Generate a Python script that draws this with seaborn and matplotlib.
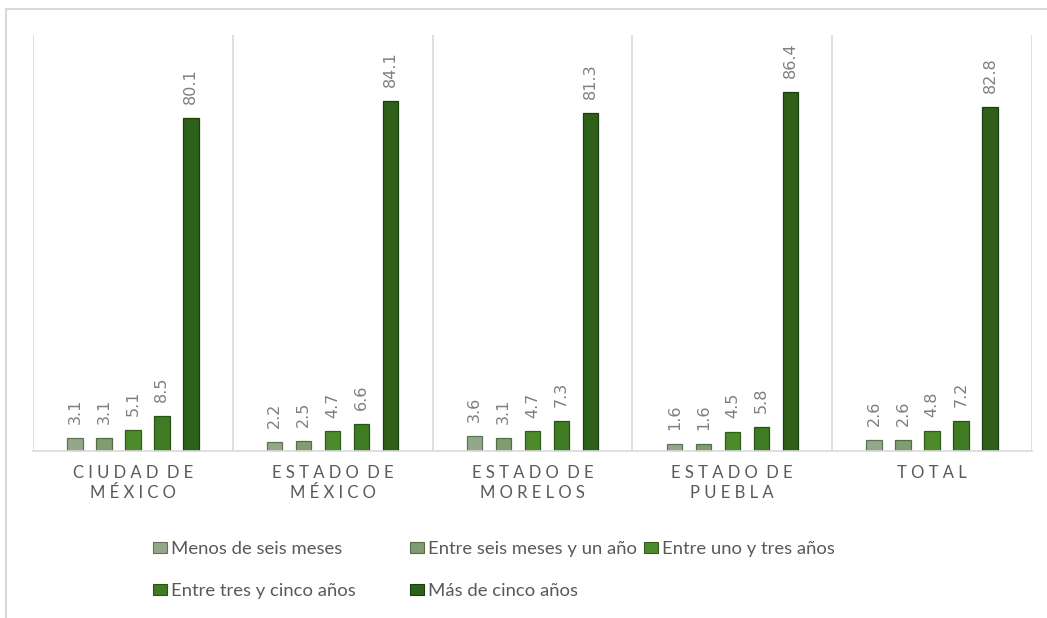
import matplotlib
matplotlib.use("Agg")
import matplotlib.pyplot as plt
from matplotlib.lines import Line2D
from matplotlib.patches import Patch
import seaborn as sns
import pandas as pd

# Entidades y periodos
estados = ["CIUDAD DE\nMÉXICO", "ESTADO DE\nMÉXICO", "ESTADO DE\nMORELOS", "ESTADO DE\nPUEBLA", "TOTAL"]
periodos = ["Menos de seis meses", "Entre seis meses y un año", "Entre uno y tres años",
            "Entre tres y cinco años", "Más de cinco años"]

# Porcentajes por periodo (una lista por periodo, en el orden de las entidades)
menos_seis_meses = [3.1, 2.2, 3.6, 1.6, 2.6]
seis_meses_un_ano = [3.1, 2.5, 3.1, 1.6, 2.6]
uno_tres_anos = [5.1, 4.7, 4.7, 4.5, 4.8]
tres_cinco_anos = [8.5, 6.6, 7.3, 5.8, 7.2]
mas_cinco_anos = [80.1, 84.1, 81.3, 86.4, 82.8]

colores = ["#93a78a", "#7f9c72", "#4d8a2c", "#3f7b22", "#2e6019"]
bordes = ["#5f7356", "#536e47", "#2f5f18", "#285315", "#1b3d0e"]

series = [menos_seis_meses, seis_meses_un_ano, uno_tres_anos, tres_cinco_anos, mas_cinco_anos]
filas = []
for periodo, valores in zip(periodos, series):
    for estado, v in zip(estados, valores):
        filas.append({"estado": estado, "periodo": periodo, "valor": v})
df = pd.DataFrame(filas)

sns.set_theme(style="white")
plt.rcParams["font.family"] = ["Lato", "DejaVu Sans"]

fig = plt.figure(figsize=(10.47, 6.18), dpi=100)
ax = fig.add_axes([33 / 1047, 1 - 451 / 618, (1032 - 33) / 1047, (451 - 35) / 618])

sns.barplot(data=df, x="estado", y="valor", hue="periodo", order=estados, hue_order=periodos,
            palette=colores, width=0.725, gap=0.47, ax=ax, legend=False, errorbar=None,
            saturation=1)

# Bordes y etiquetas de valor
for container, borde in zip(ax.containers, bordes):
    for bar in container:
        bar.set_edgecolor(borde)
        bar.set_linewidth(0.9)
    labels = [f"{b.get_height():.1f}" for b in container]
    ax.bar_label(container, labels=labels, rotation=90, padding=10,
                 color="#7f7f7f", fontsize=11.5, family="DejaVu Sans")

ax.set_ylim(0, 100)
ax.set_xlim(-0.5, 4.5)
ax.set_yticks([])
ax.set_xlabel("")
ax.set_ylabel("")

# Separadores entre entidades
for x in [-0.5, 0.5, 1.5, 2.5, 3.5, 4.5]:
    ax.axvline(x, color="#d9d9d9", lw=1.2, zorder=0)

for side in ["top", "right", "left"]:
    ax.spines[side].set_visible(False)
ax.spines["bottom"].set_color("#d9d9d9")
ax.spines["bottom"].set_linewidth(1.2)


def espaciado(texto):
    lineas = []
    for linea in texto.split("\n"):
        palabras = [" ".join(list(p)) for p in linea.split(" ")]
        lineas.append("  ".join(palabras))
    return "\n".join(lineas)


ax.set_xticks(range(len(estados)))
ax.set_xticklabels([espaciado(e) for e in estados], color="#595959", fontsize=12,
                   linespacing=1.35)
ax.tick_params(axis="x", length=0, pad=10)

# Leyenda en dos filas, cada entrada en su posición
handles = [Patch(facecolor=c, edgecolor=b, linewidth=0.8) for c, b in zip(colores, bordes)]
posiciones = [(153, 549), (410, 549), (644, 549), (153, 591), (410, 591)]
for h, etiqueta, (px, py) in zip(handles, periodos, posiciones):
    leg = fig.legend([h], [etiqueta], loc="center left",
                     bbox_to_anchor=(px / 1047, 1 - py / 618),
                     frameon=False, fontsize=13.3, labelcolor="#595959",
                     handlelength=0.75, handleheight=0.6, handletextpad=0.22,
                     borderpad=0, borderaxespad=0)

# Marco exterior
fig.add_artist(Line2D([6 / 1047, 6 / 1047], [0, 1 - 9 / 618], color="#d9d9d9", lw=1.5,
                      transform=fig.transFigure))
fig.add_artist(Line2D([6 / 1047, 1], [1 - 9 / 618, 1 - 9 / 618], color="#d9d9d9", lw=1.5,
                      transform=fig.transFigure))

fig.savefig("out.png", dpi=100)
